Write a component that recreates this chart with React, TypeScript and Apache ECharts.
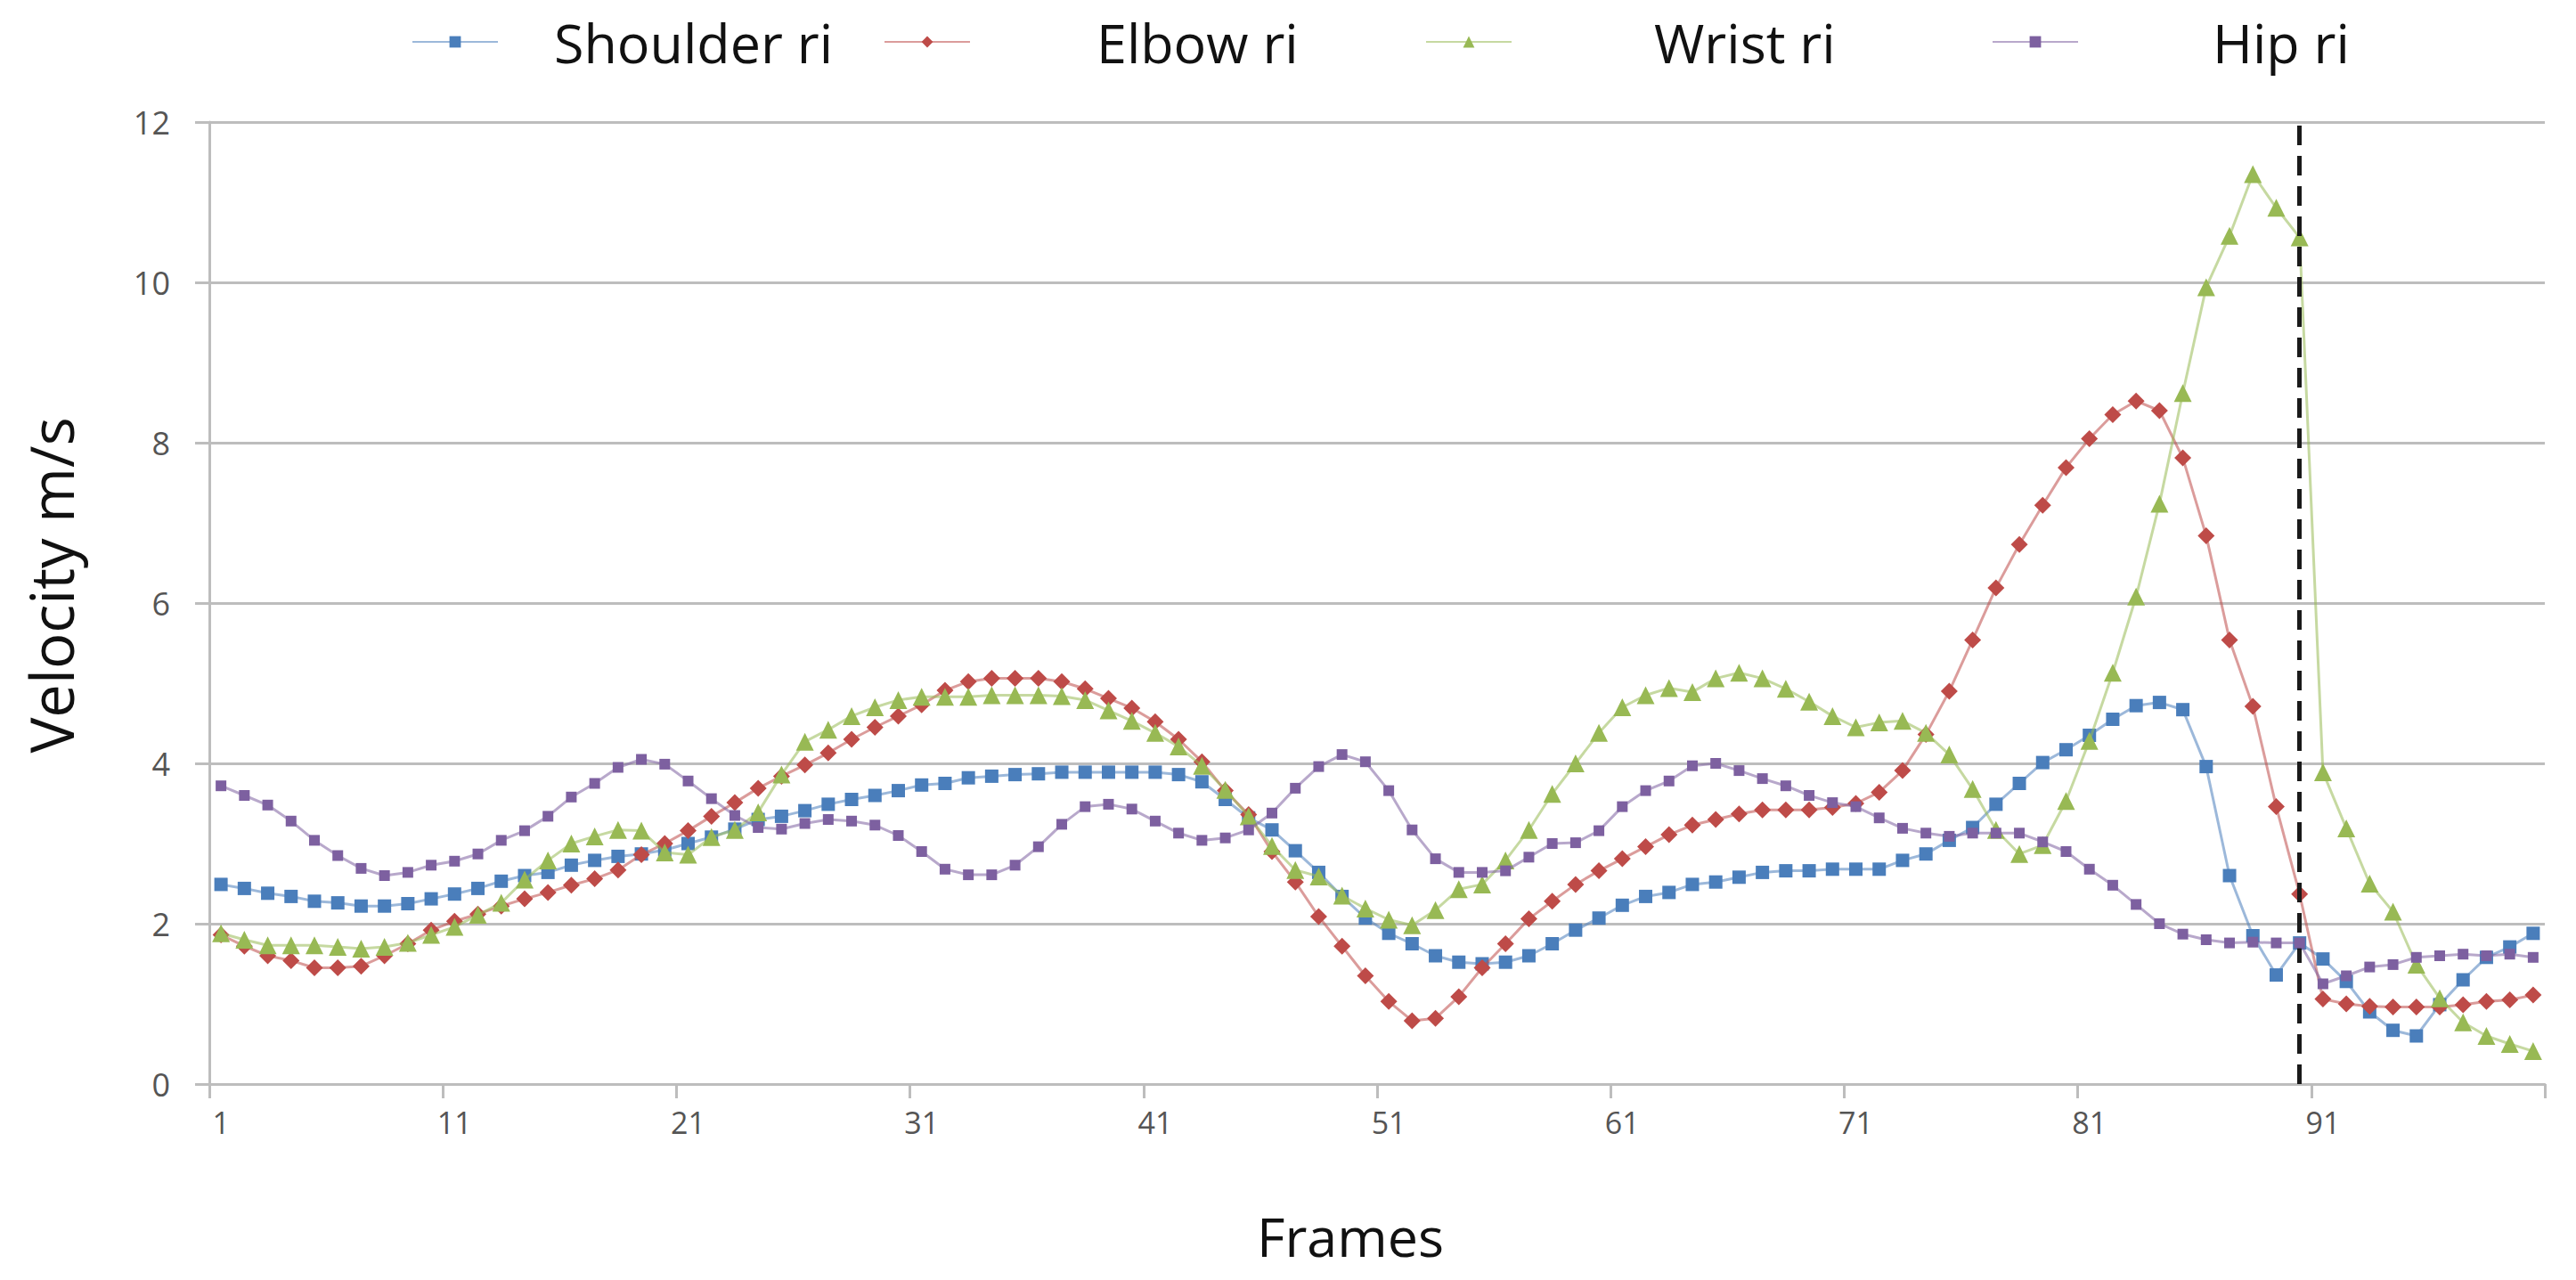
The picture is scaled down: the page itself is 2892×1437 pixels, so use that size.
import React, { useEffect, useRef } from "react";
import * as echarts from "echarts";

const frames: string[] = Array.from({ length: 100 }, (_, i) => String(i + 1));

const shoulder = [
  2.49, 2.44, 2.38, 2.34, 2.28, 2.26, 2.22, 2.22, 2.25, 2.31,
  2.37, 2.44, 2.53, 2.6, 2.64, 2.73, 2.79, 2.84, 2.87, 2.92,
  3.0, 3.08, 3.18, 3.3, 3.34, 3.41, 3.49, 3.55, 3.6, 3.66,
  3.73, 3.75, 3.82, 3.84, 3.86, 3.87, 3.89, 3.89, 3.89, 3.89,
  3.89, 3.86, 3.77, 3.55, 3.32, 3.17, 2.91, 2.64, 2.34, 2.07,
  1.88, 1.75, 1.6, 1.52, 1.5, 1.52, 1.6, 1.75, 1.92, 2.07,
  2.23, 2.34, 2.39, 2.49, 2.52, 2.58, 2.64, 2.66, 2.66, 2.68,
  2.68, 2.68, 2.79, 2.87, 3.04, 3.2, 3.49, 3.75, 4.01, 4.17,
  4.35, 4.55, 4.72, 4.76, 4.67, 3.96, 2.6, 1.85, 1.36, 1.76,
  1.56, 1.28, 0.9, 0.67, 0.6, 0.99, 1.3, 1.58, 1.71, 1.88,
];

const elbow = [
  1.86, 1.72, 1.6, 1.54, 1.45, 1.45, 1.47, 1.6, 1.75, 1.92,
  2.03, 2.12, 2.22, 2.31, 2.39, 2.48, 2.56, 2.67, 2.86, 3.0,
  3.16, 3.34, 3.51, 3.69, 3.84, 3.98, 4.13, 4.3, 4.45, 4.59,
  4.73, 4.91, 5.02, 5.06, 5.06, 5.06, 5.02, 4.93, 4.81, 4.69,
  4.52, 4.3, 4.02, 3.66, 3.36, 2.9, 2.52, 2.09, 1.72, 1.35,
  1.03, 0.79, 0.82, 1.09, 1.45, 1.75, 2.06, 2.28, 2.49, 2.66,
  2.81, 2.96, 3.11, 3.23, 3.3, 3.37, 3.42, 3.42, 3.42, 3.45,
  3.5, 3.64, 3.91, 4.36, 4.9, 5.54, 6.19, 6.73, 7.22, 7.69,
  8.05, 8.35, 8.52, 8.4, 7.81, 6.84, 5.54, 4.71, 3.46, 2.37,
  1.06, 1.0, 0.97, 0.96, 0.96, 0.96, 0.99, 1.03, 1.05, 1.11,
];

const wrist = [
  1.88, 1.8, 1.73, 1.73, 1.73, 1.71, 1.69, 1.71, 1.76, 1.86,
  1.96, 2.11, 2.26, 2.55, 2.79, 3.0, 3.09, 3.17, 3.16, 2.89,
  2.86, 3.08, 3.17, 3.39, 3.86, 4.27, 4.42, 4.59, 4.7, 4.79,
  4.83, 4.83, 4.83, 4.85, 4.85, 4.85, 4.84, 4.79, 4.66, 4.53,
  4.38, 4.21, 3.97, 3.67, 3.34, 2.97, 2.67, 2.59, 2.35, 2.19,
  2.05, 1.98, 2.17, 2.43, 2.49, 2.79, 3.17, 3.62, 4.0, 4.38,
  4.7, 4.85, 4.94, 4.89, 5.06, 5.13, 5.06, 4.93, 4.77, 4.59,
  4.45, 4.51, 4.53, 4.38, 4.11, 3.68, 3.17, 2.87, 2.98, 3.53,
  4.28, 5.13, 6.08, 7.24, 8.62, 9.94, 10.58, 11.35, 10.93, 10.56,
  3.89, 3.19, 2.5, 2.15, 1.49, 1.07, 0.77, 0.6, 0.5, 0.41,
];

const hip = [
  3.72, 3.6, 3.48, 3.28, 3.04, 2.85, 2.69, 2.6, 2.64, 2.73,
  2.78, 2.87, 3.04, 3.16, 3.34, 3.58, 3.75, 3.95, 4.05, 3.99,
  3.78, 3.56, 3.35, 3.2, 3.18, 3.25, 3.3, 3.28, 3.23, 3.1,
  2.9, 2.68, 2.61, 2.61, 2.73, 2.96, 3.24, 3.46, 3.49, 3.43,
  3.28, 3.13, 3.04, 3.07, 3.17, 3.38, 3.69, 3.96, 4.11, 4.02,
  3.66, 3.17, 2.81, 2.64, 2.64, 2.66, 2.83, 3.0, 3.01, 3.16,
  3.46, 3.66, 3.78, 3.97, 4.0, 3.91, 3.81, 3.72, 3.6, 3.51,
  3.46, 3.32, 3.19, 3.13, 3.09, 3.13, 3.13, 3.13, 3.02, 2.9,
  2.68, 2.48, 2.24, 2.0, 1.87, 1.8, 1.76, 1.77, 1.76, 1.76,
  1.25, 1.35, 1.46, 1.49, 1.58, 1.6, 1.62, 1.6, 1.62, 1.58,
];

const seriesNames = ["Shoulder ri", "Elbow ri", "Wrist ri", "Hip ri"];
const seriesColors = ["#4A7EBB", "#BE4B48", "#98B954", "#7D60A0"];
const seriesSymbols = ["rect", "diamond", "triangle", "rect"];
const seriesSymbolSizes = [15, 19, 20, 12];
const legendLefts = [457, 987, 1595, 2231];
const legendTextPads = [58, 137, 155, 146];
const markerFrame = "90";

const FONT = "'Open Sans', 'Noto Sans', sans-serif";

export default function App() {
  const ref = useRef<HTMLDivElement>(null);

  useEffect(() => {
    if (!ref.current) return;
    const chart = echarts.init(ref.current, undefined, { renderer: "svg" });
    const dataSets = [shoulder, elbow, wrist, hip];

    const series: any[] = dataSets.map((d, i) => ({
      name: seriesNames[i],
      type: "line",
      data: d,
      symbol: seriesSymbols[i],
      symbolSize: seriesSymbolSizes[i],
      showSymbol: true,
      showAllSymbol: true,
      itemStyle: { color: seriesColors[i] },
      lineStyle: { color: seriesColors[i], width: 3, opacity: 0.55 },
      z: 2 + i,
    }));

    series[0].markLine = {
      silent: true,
      symbol: ["none", "none"],
      label: { show: false },
      lineStyle: { color: "#1a1a1a", width: 5, type: [22, 12], opacity: 1 },
      data: [{ xAxis: markerFrame }],
    };

    const legends = seriesNames.map((n, i) => ({
      show: true,
      data: [n],
      left: legendLefts[i],
      top: 10,
      itemWidth: 96,
      itemHeight: 16,
      textStyle: {
        fontFamily: FONT,
        fontSize: 61,
        lineHeight: 64,
        color: "#111",
        padding: [0, 0, 0, legendTextPads[i]],
      },
    }));

    chart.setOption({
      animation: false,
      backgroundColor: "#ffffff",
      legend: legends,
      grid: { left: 235, right: 35, top: 137, bottom: 220, containLabel: false },
      xAxis: {
        type: "category",
        data: frames,
        boundaryGap: true,
        name: "Frames",
        nameLocation: "middle",
        nameGap: 140,
        nameTextStyle: { fontFamily: FONT, fontSize: 61, color: "#111", padding: [0, 60, 0, 0] },
        axisLine: { show: true, lineStyle: { color: "#BDBDBD", width: 3 } },
        axisTick: { show: true, interval: 9, length: 16, lineStyle: { color: "#BDBDBD", width: 3 } },
        axisLabel: { interval: 9, fontFamily: FONT, fontSize: 34, color: "#555", margin: 26 },
        splitLine: { show: false },
      },
      yAxis: {
        type: "value",
        min: 0,
        max: 12,
        interval: 2,
        name: "Velocity m/s",
        nameLocation: "middle",
        nameRotate: 90,
        nameGap: 145,
        nameTextStyle: { fontFamily: FONT, fontSize: 67, color: "#111", padding: [0, 0, 0, 40] },
        axisLine: { show: true, lineStyle: { color: "#BDBDBD", width: 3 } },
        axisTick: { show: true, length: 16, lineStyle: { color: "#BDBDBD", width: 3 } },
        axisLabel: { fontFamily: FONT, fontSize: 36, color: "#555", margin: 44 },
        splitLine: { show: true, lineStyle: { color: "#BDBDBD", width: 3 } },
      },
      series,
    });

    return () => {
      chart.dispose();
    };
  }, []);

  return (
    <div
      ref={ref}
      style={{ position: "fixed", left: 0, top: 0, width: "2892px", height: "1437px", background: "#fff" }}
    />
  );
}
